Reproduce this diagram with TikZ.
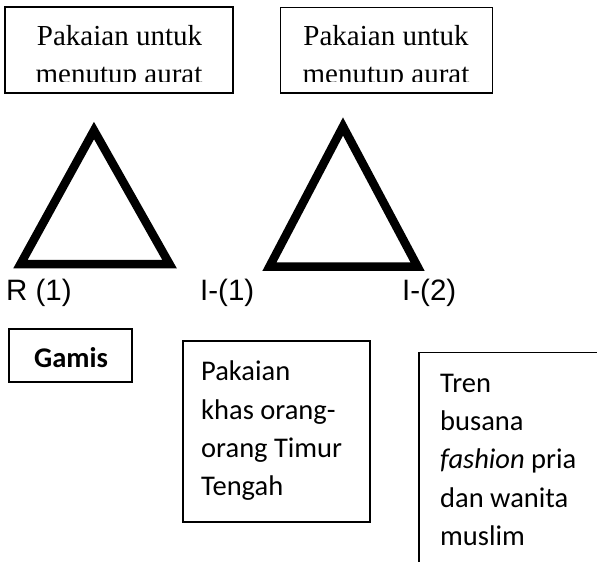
\documentclass[tikz,border=0pt]{standalone}
\usepackage{fontspec}
\setmainfont{Liberation Serif}
\newfontfamily\arialf{Liberation Sans}
\newfontfamily\calib{Carlito}
\begin{document}
\begin{tikzpicture}[x=1pt,y=-1pt,
  boxa/.style={draw=black,line width=1.4pt},
  boxb/.style={draw=black,line width=1.8pt},
  tri/.style={draw=black,line width=8.5pt,line join=miter},
  serif/.style={font=\fontsize{29}{37}\selectfont,inner sep=0pt,anchor=base},
  lab/.style={font=\arialf\fontsize{29.5}{35}\selectfont,inner sep=0pt,anchor=base west},
  cal/.style={font=\calib\fontsize{28.5}{38}\selectfont,inner sep=0pt,anchor=base west}]
\clip (0,0) rectangle (597,562);
\fill[white] (0,0) rectangle (597,562);
% top boxes
\draw[boxa] (5,7) rectangle (233,93);
\draw[boxa] (280.5,7.3) rectangle (492.3,93);
\begin{scope}
\clip (5,7) rectangle (233,81.5);
\node[serif] (t1a) at (119.5,45) {Pakaian untuk};
\node[serif] (t1b) at (119,83) {menutup aurat};
\end{scope}
\begin{scope}
\clip (280.5,7.3) rectangle (492.3,81.5);
\node[serif] (t2a) at (386,45) {Pakaian untuk};
\node[serif] (t2b) at (386,83) {menutup aurat};
\end{scope}
% triangles
\coordinate (A1) at (94,130.5);
\coordinate (L1) at (20.5,264);
\coordinate (R1) at (169.5,264);
\draw[tri] (L1) -- (A1) -- (R1) -- cycle;
\coordinate (A2) at (343,126.5);
\coordinate (L2) at (269.5,266.5);
\coordinate (R2) at (417.5,266.5);
\draw[tri] (L2) -- (A2) -- (R2) -- cycle;
% labels
\node[lab] (r1) at (6,300) {R (1)};
\node[lab] (i1) at (200,300) {I-(1)};
\node[lab] (i2) at (402,300) {I-(2)};
% bottom boxes
\draw[boxb] (9,329) rectangle (132,382);
\node[cal,anchor=base,font=\calib\bfseries\fontsize{28.5}{38}\selectfont] (g) at (71,367) {Gamis};
\draw[boxb] (183,341) rectangle (370,522);
\node[cal] (p1) at (201,380.7) {Pakaian};
\node[cal] (p2) at (201,419) {khas orang-};
\node[cal] (p3) at (201,457.3) {orang Timur};
\node[cal] (p4) at (201,495.6) {Tengah};
\draw[boxb] (419,352.5) rectangle (620,600);
\node[cal] (q1) at (440,392.7) {Tren};
\node[cal] (q2) at (440,430.8) {busana};
\node[cal] (q3) at (440,468.9) {\textit{fashion} pria};
\node[cal] (q4) at (440,507) {dan wanita};
\node[cal] (q5) at (440,545.1) {muslim};
\end{tikzpicture}
\end{document}
